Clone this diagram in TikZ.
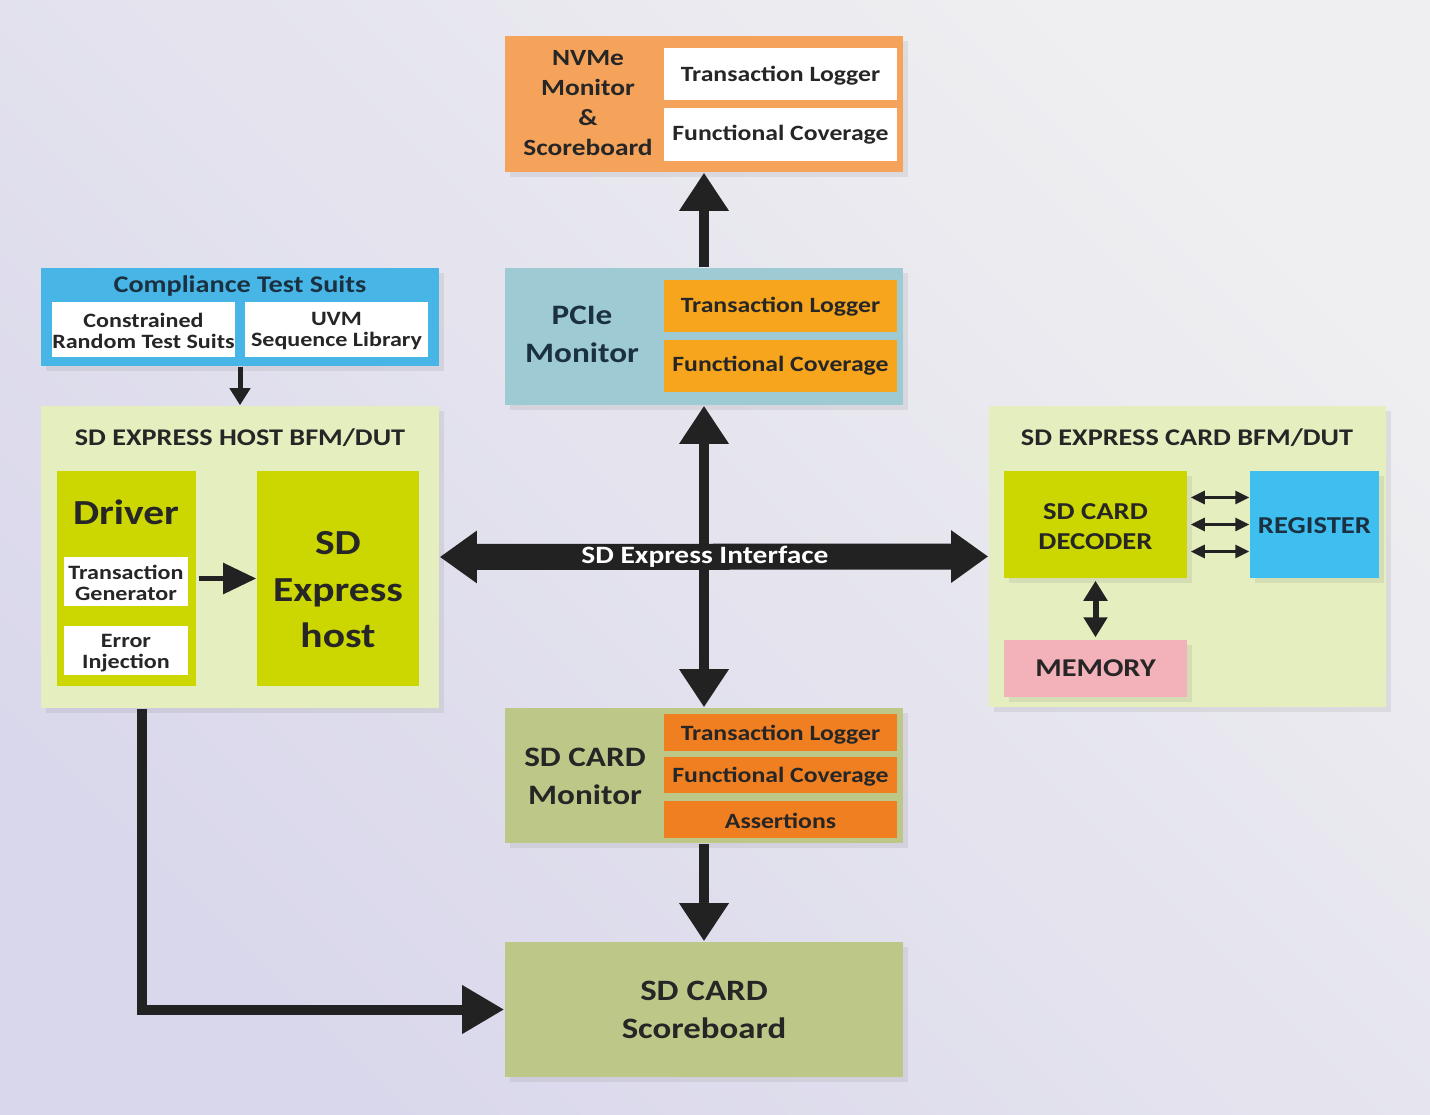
\documentclass[tikz,border=0pt]{standalone}
\usepackage{fontspec}
\setmainfont{Carlito}[FakeStretch=1.18]
\usetikzlibrary{arrows.meta,shadows}
\definecolor{bgA}{HTML}{D9D7EB}
\definecolor{bgB}{HTML}{EFEFF1}
\definecolor{nvmeO}{HTML}{F5A35B}
\definecolor{pcieT}{HTML}{9DCAD3}
\definecolor{pcieO}{HTML}{F8A51E}
\definecolor{monG}{HTML}{BDC888}
\definecolor{monO}{HTML}{F07F22}
\definecolor{pale}{HTML}{E5EEBF}
\definecolor{lime}{HTML}{CCD600}
\definecolor{regB}{HTML}{3FBEF0}
\definecolor{memP}{HTML}{F3B1BA}
\definecolor{ctsB}{HTML}{47B6E6}
\definecolor{txt}{HTML}{262626}
\definecolor{navy}{HTML}{1B3141}
\definecolor{arr}{HTML}{222222}
\tikzset{
  every node/.style={font=\bfseries, text=txt, inner sep=0pt},
  box/.style={draw=none, rectangle},
  sbox/.style={box, drop shadow={opacity=0.15, shadow xshift=1.5pt, shadow yshift=-1.5pt}},
  fz/.style n args={2}{font=\bfseries\fontsize{#1}{#2}\selectfont},
  bigarr/.style={draw=arr, line width=0.1cm, -{Triangle[length=0.38cm, width=0.47cm]}},
  bigdbl/.style={draw=arr, line width=0.1cm, {Triangle[length=0.38cm, width=0.47cm]}-{Triangle[length=0.38cm, width=0.47cm]}},
  thindbl/.style={draw=arr, line width=0.03cm, {Triangle[length=0.14cm, width=0.13cm]}-{Triangle[length=0.14cm, width=0.13cm]}},
}
\begin{document}
\begin{tikzpicture}[x=0.01cm, y=-0.01cm]
\useasboundingbox (0,0) rectangle (1430,1115);
\shade[left color=bgA, right color=bgB, shading angle=135] (0,0) rectangle (1430,1115);

% NVMe
\node[sbox, fill=nvmeO, minimum width=3.98cm, minimum height=1.36cm] (nvme) at (704,104) {};
\node[box, fill=white, minimum width=2.33cm, minimum height=0.52cm] (nvmetl) at (780.5,74) {};
\node[box, fill=white, minimum width=2.33cm, minimum height=0.53cm] (nvmefc) at (780.5,134.5) {};
\node[fz={6.2}{7.5}] (nvmetlt) at (780.5,75.5) {Transaction Logger};
\node[fz={6.2}{7.5}] (nvmefct) at (nvmefc) {Functional Coverage};
\node[fz={6.6}{8.5}, align=center] (nvmet) at (588,103) {NVMe\\Monitor\\\&\\Scoreboard};

% PCIe
\node[sbox, fill=pcieT, minimum width=3.98cm, minimum height=1.37cm] (pcie) at (704,336.5) {};
\node[box, fill=pcieO, minimum width=2.33cm, minimum height=0.52cm] (pcietl) at (780.5,306) {};
\node[box, fill=pcieO, minimum width=2.33cm, minimum height=0.52cm] (pciefc) at (780.5,366) {};
\node[fz={6.2}{7.5}] (pcietlt) at (780.5,307) {Transaction Logger};
\node[fz={6.2}{7.5}] (pciefct) at (pciefc) {Functional Coverage};
\node[fz={8}{10.8}, align=center, text=navy] (pciet) at (582,334) {PCIe\\Monitor};

% Compliance
\node[sbox, fill=ctsB, minimum width=3.98cm, minimum height=0.98cm] (cts) at (240,317) {};
\node[fz={6.8}{8}, text=navy] (ctst) at (240,286) {Compliance Test Suits};
\node[box, fill=white, minimum width=1.83cm, minimum height=0.55cm] (ctsa) at (143.5,329.5) {};
\node[box, fill=white, minimum width=1.83cm, minimum height=0.55cm] (ctsb) at (336.5,329.5) {};
\node[fz={5.8}{6}, align=center] (ctsat) at (143.5,331) {Constrained\\Random Test Suits};
\node[fz={5.8}{6}, align=center] (ctsbt) at (336.5,331) {UVM\\Sequence Library};

% Host
\node[sbox, fill=pale, minimum width=3.98cm, minimum height=3.02cm] (host) at (240,557) {};
\node[fz={6.8}{8}] (hostt) at (240,438) {SD EXPRESS HOST BFM/DUT};
\node[box, fill=lime, minimum width=1.39cm, minimum height=2.15cm] (drv) at (126.5,578.5) {};
\node[fz={10}{12}] (drvt) at (126,512) {Driver};
\node[box, fill=white, minimum width=1.24cm, minimum height=0.49cm] (tg) at (126,581.5) {};
\node[box, fill=white, minimum width=1.24cm, minimum height=0.49cm] (ei) at (126,650.5) {};
\node[fz={5.8}{6}, align=center] (tgt) at (126,583) {Transaction\\Generator};
\node[fz={5.8}{6}, align=center] (eit) at (126,653.5) {Error\\Injection};
\node[box, fill=lime, minimum width=1.62cm, minimum height=2.15cm] (sdh) at (338,578.5) {};
\node[fz={10}{13.2}, align=center] (sdht) at (338,590) {SD\\Express\\host};

% Card
\node[sbox, fill=pale, minimum width=3.97cm, minimum height=3.01cm] (card) at (1187.5,556.5) {};
\node[fz={6.8}{8}] (cardt) at (1187,438) {SD EXPRESS CARD BFM/DUT};
\node[sbox, fill=lime, minimum width=1.83cm, minimum height=1.07cm] (dec) at (1095.5,524.5) {};
\node[fz={6.9}{8.5}, align=center] (dect) at (1095.5,527) {SD CARD\\DECODER};
\node[sbox, fill=regB, minimum width=1.29cm, minimum height=1.07cm] (reg) at (1314.5,524.5) {};
\node[fz={6.9}{8.5}, text=navy] (regt) at (1314.5,525.5) {REGISTER};
\node[sbox, fill=memP, minimum width=1.83cm, minimum height=0.57cm] (mem) at (1095.5,668.5) {};
\node[fz={7.3}{8.5}] (memt) at (mem) {MEMORY};

% SD card monitor
\node[sbox, fill=monG, minimum width=3.98cm, minimum height=1.35cm] (mon) at (704,775.5) {};
\node[box, fill=monO, minimum width=2.33cm, minimum height=0.37cm] (montl) at (780.5,732.5) {};
\node[box, fill=monO, minimum width=2.33cm, minimum height=0.36cm] (monfc) at (780.5,775) {};
\node[box, fill=monO, minimum width=2.33cm, minimum height=0.37cm] (monas) at (780.5,819.5) {};
\node[fz={6.2}{7}] (montlt) at (780.5,735) {Transaction Logger};
\node[fz={6.2}{7}] (monfct) at (780.5,777) {Functional Coverage};
\node[fz={6.2}{7}] (monast) at (780.5,821) {Assertions};
\node[fz={8}{10.8}, align=center] (mont) at (585,776) {SD CARD\\Monitor};

% Scoreboard
\node[sbox, fill=monG, minimum width=3.98cm, minimum height=1.35cm] (score) at (704,1009.5) {};
\node[fz={8.4}{10.8}, align=center] (scoret) at (704,1010) {SD CARD\\Scoreboard};

% Connectors
\draw[bigarr] (pcie.north) -- (nvme.south);
\draw[bigdbl] (pcie.south) -- (mon.north);
\draw[bigarr] (mon.south) -- (score.north);
\draw[draw=arr, line width=0.26cm, {Triangle[length=0.37cm, width=0.5cm]}-{Triangle[length=0.37cm, width=0.5cm]}] (host.east) -- (card.west);
\node[fz={7.1}{9}, text=white] (ifacet) at (705,557) {SD Express Interface};
\draw[draw=arr, line width=0.05cm, -{Triangle[length=0.17cm, width=0.2cm]}] (cts.south) -- (host.north);
\draw[draw=arr, line width=0.055cm, -{Triangle[length=0.33cm, width=0.3cm]}] ([xshift=0.02cm]drv.east) -- (sdh.west);
\draw[thindbl] ([xshift=0.03cm,yshift=0.27cm]dec.east) -- ([yshift=0.27cm]reg.west);
\draw[thindbl] ([xshift=0.03cm]dec.east) -- (reg.west);
\draw[thindbl] ([xshift=0.03cm,yshift=-0.27cm]dec.east) -- ([yshift=-0.27cm]reg.west);
\draw[draw=arr, line width=0.06cm, {Triangle[length=0.2cm, width=0.23cm]}-{Triangle[length=0.2cm, width=0.23cm]}] ([yshift=-0.02cm]dec.south) -- ([yshift=0.02cm]mem.north);
\draw[draw=arr, line width=0.1cm, -{Triangle[length=0.42cm, width=0.46cm]}] ([xshift=1.02cm]host.south west) |- (score.west);
\end{tikzpicture}
\end{document}
